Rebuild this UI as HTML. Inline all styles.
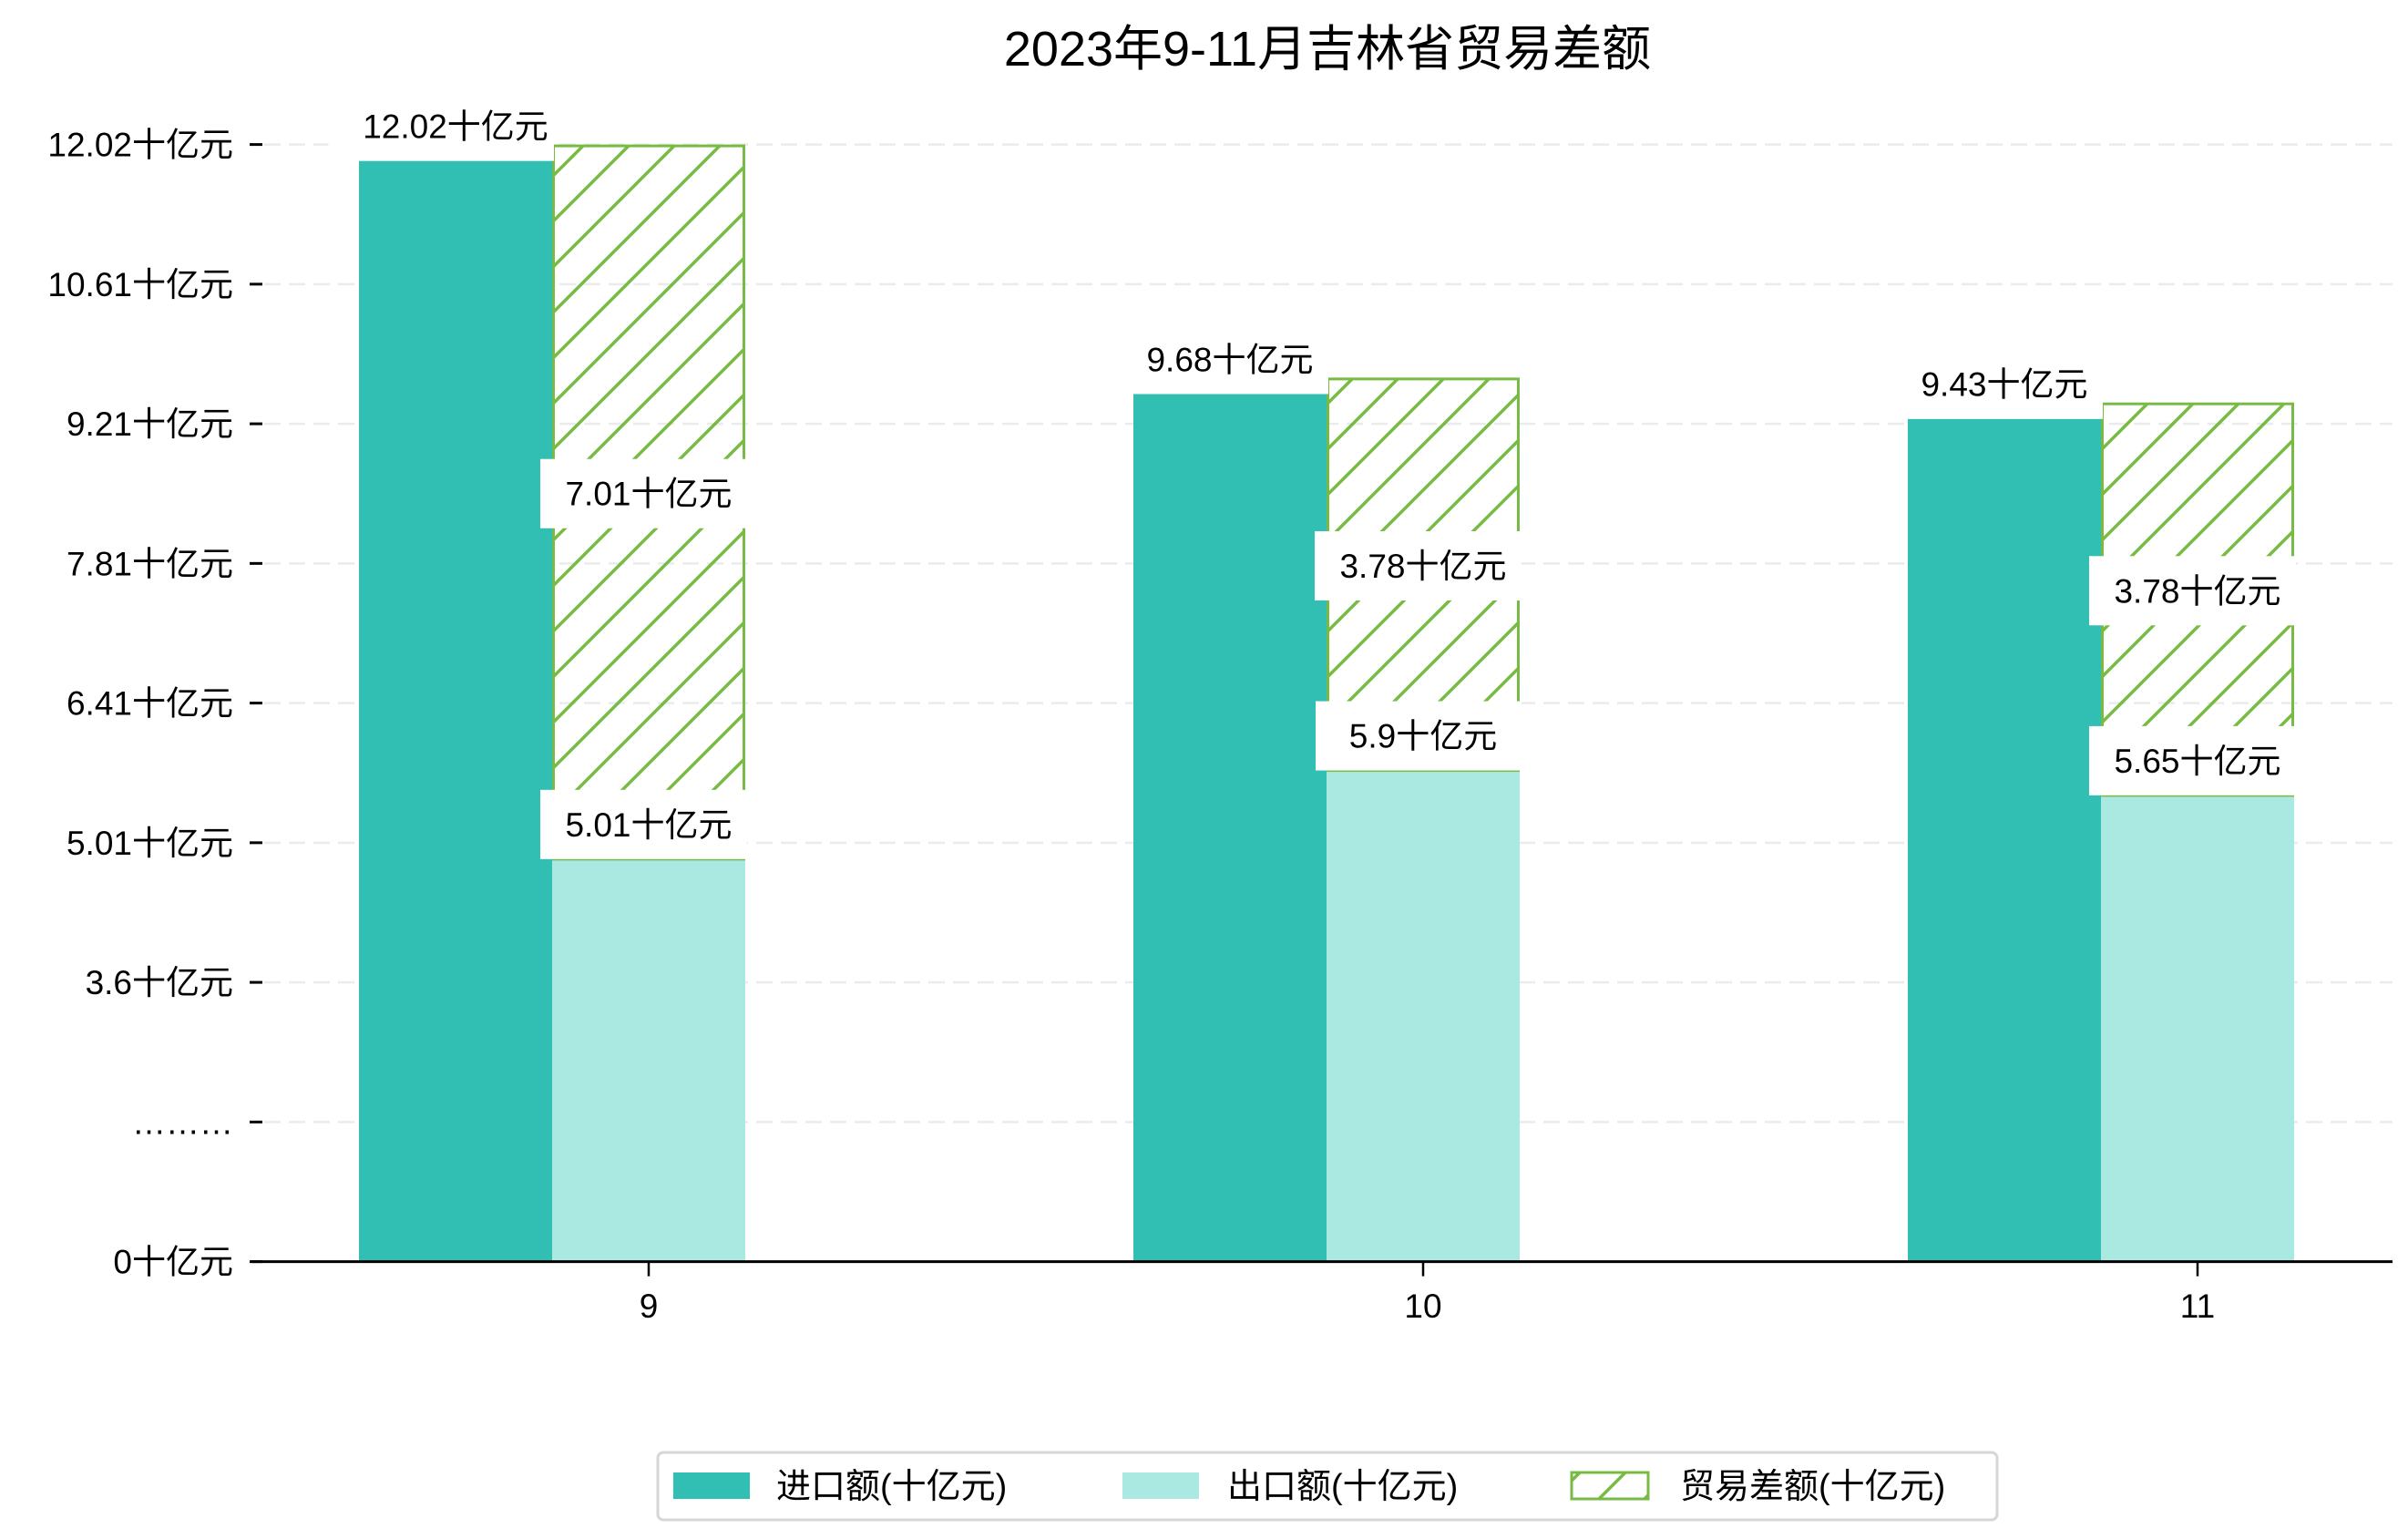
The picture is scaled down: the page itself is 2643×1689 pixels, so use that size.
<!DOCTYPE html>
<html><head><meta charset="utf-8">
<style>
html,body{margin:0;padding:0;background:#fff;}
svg{display:block;}
text{font-family:"Liberation Sans","Noto Sans CJK SC",sans-serif;fill:#000;}
</style></head>
<body>
<svg id="chart" width="2643" height="1689" viewBox="0 0 2643 1689" xmlns="http://www.w3.org/2000/svg">
<defs>
<pattern id="hatch" patternUnits="userSpaceOnUse" width="50" height="50">
<line x1="-5" y1="55" x2="55" y2="-5" stroke="#77bb44" stroke-width="3.5"/>
<line x1="-30" y1="30" x2="30" y2="-30" stroke="#77bb44" stroke-width="3.5"/>
<line x1="20" y1="80" x2="80" y2="20" stroke="#77bb44" stroke-width="3.5"/>
</pattern>
</defs>
<text x="1457" y="72" font-size="54" text-anchor="middle">2023年9-11月吉林省贸易差额</text>
<g id="grid"></g>
<g id="bars"></g>
<g id="axes"></g>
<g id="labels"></g>
<g id="legend">
<rect x="722" y="1594" width="1470" height="74" rx="6" fill="#fff" stroke="#d6d6d6" stroke-width="3"/>
<rect x="739" y="1616" width="84" height="29" fill="#30bfb2"/>
<text x="852" y="1644" font-size="38">进口额(十亿元)</text>
<rect x="1232" y="1616" width="84" height="29" fill="#aae8e2"/>
<text x="1347" y="1644" font-size="38">出口额(十亿元)</text>
<rect x="1725" y="1616" width="84" height="29" fill="url(#hatch)" stroke="#77bb44" stroke-width="3"/>
<text x="1844" y="1644" font-size="38">贸易差额(十亿元)</text>
</g>
</svg>
<script>
const categories = ["9","10","11"];
const importValues = [12.02, 9.68, 9.43];
const exportValues = [5.01, 5.9, 5.65];
const balanceValues = [7.01, 3.78, 3.78];
const yTickLabels = ["12.02十亿元","10.61十亿元","9.21十亿元","7.81十亿元","6.41十亿元","5.01十亿元","3.6十亿元","………","0十亿元"];
const yTopValue = 12.02;

const NS = "http://www.w3.org/2000/svg";
const plotTop = 158.6, tickStep = 153.25, baseY = 1384.6;
const axisLeft = 276, axisRight = 2626;
const pxPerUnit = tickStep / 1.402;
const barW = 212, catStart = 712, catStep = 850, barShift = 18;
function yTick(i){ return plotTop + i*tickStep; }
function yVal(v){ return plotTop + (yTopValue - v)*pxPerUnit; }
function xCat(i){ return catStart + i*catStep; }
function mk(tag, attrs, parent, txt){
  const e = document.createElementNS(NS, tag);
  for (const k in attrs) e.setAttribute(k, attrs[k]);
  if (txt !== undefined) e.textContent = txt;
  parent.appendChild(e); return e;
}
const grid = document.getElementById('grid');
const axes = document.getElementById('axes');
const bars = document.getElementById('bars');
const labels = document.getElementById('labels');

yTickLabels.forEach((t, i) => {
  const y = yTick(i);
  if (i < yTickLabels.length - 1) {
    const g = mk('line', {x1:290, x2:axisRight, y1:y, y2:y, stroke:'#ebebeb', 'stroke-width':2.5, 'stroke-dasharray':'18 9'}, grid);
    
    
  }
  const tk = mk('line', {x1:274, x2:288, y1:y, y2:y, stroke:'#000', 'stroke-width':3}, axes);
  
  
  const lb = mk('text', {x:256, y:y+13, 'font-size':37, 'text-anchor':'end'}, axes, t);
  
  
});
const ax = mk('line', {x1:axisLeft, x2:axisRight, y1:baseY, y2:baseY, stroke:'#000', 'stroke-width':3}, axes);



function boxLabel(cx, cy, txt, name){
  const r = mk('rect', {x:cx, y:cy - 38, width:10, height:76, fill:'#fff'}, labels);
  
  
  const t = mk('text', {x:cx, y:cy + 13, 'font-size':37, 'text-anchor':'middle'}, labels, txt);
  
  
  const w = t.getComputedTextLength();
  const right = cx + barW/2 + 2;
  const bw = Math.max(w + 44, 2*(right - cx) + 10);
  r.setAttribute('x', right - bw);
  r.setAttribute('width', bw);
}

categories.forEach((c, i) => {
  const cx = xCat(i);
  const impTop = yVal(importValues[i]) + barShift;
  const expTop = yVal(exportValues[i]) + barShift;
  const balTop = yVal(exportValues[i] + balanceValues[i]);
  const bi = mk('rect', {x:cx - 1.5*barW, y:impTop, width:barW, height:baseY - impTop, fill:'#30bfb2'}, bars);
  
  
  const be = mk('rect', {x:cx - 0.5*barW, y:expTop, width:barW, height:baseY - expTop, fill:'#aae8e2'}, bars);
  
  
  const bb = mk('rect', {x:cx - 0.5*barW + 1.5, y:balTop + 1.5, width:barW - 3, height:expTop - balTop - 1.5, fill:'url(#hatch)', stroke:'#77bb44', 'stroke-width':3}, bars);
  
  
  const xt = mk('line', {x1:cx, x2:cx, y1:baseY, y2:baseY + 16, stroke:'#000', 'stroke-width':2.5}, axes);
  
  
  const xl = mk('text', {x:cx, y:1446, 'font-size':37, 'text-anchor':'middle'}, axes, c);
  
  
  boxLabel(cx - barW, impTop - 38, importValues[i] + '十亿元', 'import-value-label');
  boxLabel(cx, expTop - 38, exportValues[i] + '十亿元', 'export-value-label');
  boxLabel(cx, (balTop + expTop)/2 - 9, balanceValues[i] + '十亿元', 'balance-value-label');
});
</script>
</body></html>
